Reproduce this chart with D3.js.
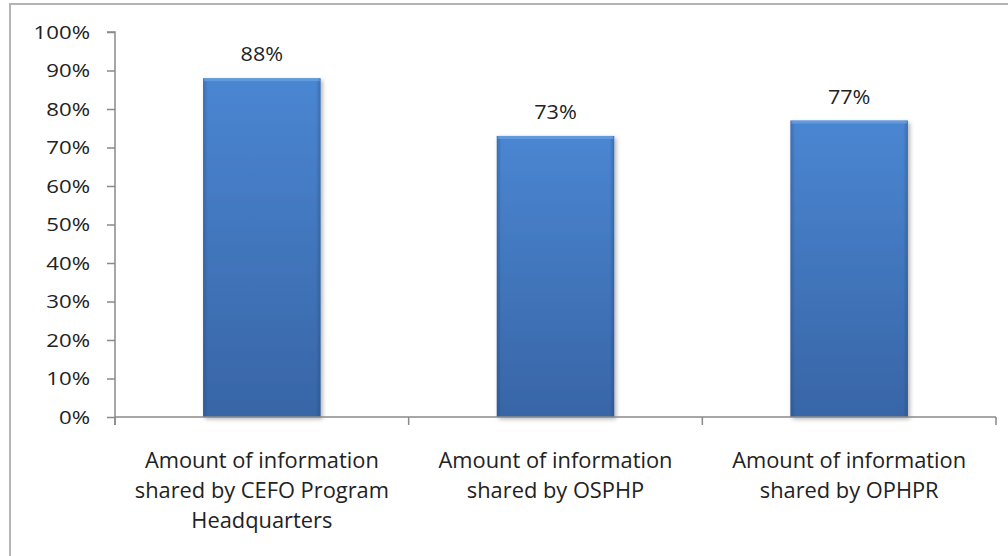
<!DOCTYPE html>
<html><head><meta charset="utf-8">
<script src="https://cdn.jsdelivr.net/npm/d3@7"></script>
<style>html,body{margin:0;padding:0;background:#fff;}svg{display:block;}</style>
</head><body>
<svg id="c" width="1008" height="556"></svg>
<script>
const categories = [
  ["Amount of information", "shared by CEFO Program", "Headquarters"],
  ["Amount of information", "shared by OSPHP"],
  ["Amount of information", "shared by OPHPR"]
];
const values = [0.88, 0.73, 0.77];
const valueLabels = ["88%", "73%", "77%"];
const yTicks = [0, 0.1, 0.2, 0.3, 0.4, 0.5, 0.6, 0.7, 0.8, 0.9, 1.0];

(function () {
const svg = d3.select("#c");
const font = "'Open Sans', Lato, sans-serif";
const pl = 115, pr = 996, pt = 32, pb = 417;

svg.append("rect").attr("x", 10).attr("y", 4).attr("width", 1010).attr("height", 560)
  .attr("fill", "none").attr("stroke", "#b4b4b4").attr("stroke-width", 2);

const defs = svg.append("defs");
const g1 = defs.append("linearGradient").attr("id", "barV").attr("x1", 0).attr("y1", 0).attr("x2", 0).attr("y2", 1);
g1.append("stop").attr("offset", "0%").attr("stop-color", "#4a86d2");
g1.append("stop").attr("offset", "100%").attr("stop-color", "#3865a6");
const g2 = defs.append("linearGradient").attr("id", "barH").attr("x1", 0).attr("y1", 0).attr("x2", 1).attr("y2", 0);
g2.append("stop").attr("offset", "0%").attr("stop-color", "#1e3f70").attr("stop-opacity", 0.35);
g2.append("stop").attr("offset", "4%").attr("stop-color", "#1e3f70").attr("stop-opacity", 0);
g2.append("stop").attr("offset", "96%").attr("stop-color", "#1e3f70").attr("stop-opacity", 0);
g2.append("stop").attr("offset", "100%").attr("stop-color", "#1e3f70").attr("stop-opacity", 0.35);
const f = defs.append("filter").attr("id", "sh").attr("x", "-10%").attr("y", "-10%").attr("width", "130%").attr("height", "130%");
f.append("feDropShadow").attr("dx", 2).attr("dy", 2).attr("stdDeviation", 2).attr("flood-color", "#000").attr("flood-opacity", 0.3);

const x = d3.scaleBand().domain(d3.range(values.length)).range([pl, pr]).paddingInner(0.6).paddingOuter(0.3);
const y = d3.scaleLinear().domain([0, 1]).range([pb, pt]);

const bars = svg.append("g").selectAll("g").data(values).join("g");
bars.append("rect").attr("x", (d, i) => x(i)).attr("y", d => y(d)).attr("width", x.bandwidth())
  .attr("height", d => y(0) - y(d)).attr("fill", "url(#barV)").attr("filter", "url(#sh)");
bars.append("rect").attr("x", (d, i) => x(i)).attr("y", d => y(d)).attr("width", x.bandwidth())
  .attr("height", d => y(0) - y(d)).attr("fill", "url(#barH)");
bars.append("rect").attr("x", (d, i) => x(i) + 1).attr("y", d => y(d)).attr("width", x.bandwidth() - 2)
  .attr("height", 3).attr("fill", "#6a9fe0").attr("opacity", 0.8);

svg.append("g").selectAll("text").data(values).join("text")
  .attr("transform", (d, i) => `translate(${x(i) + x.bandwidth() / 2},${y(d) - 17}) scale(1.08,1)`)
  .attr("text-anchor", "middle").attr("font-family", font).attr("font-size", 20).attr("fill", "#222")
  .text((d, i) => valueLabels[i]);

const yAxis = d3.axisLeft(y).tickValues(yTicks).tickFormat(d3.format(".0%")).tickSize(8).tickPadding(25);
const ya = svg.append("g").attr("transform", `translate(${pl},0)`).call(yAxis);
ya.select(".domain").attr("stroke", "#8a8a8a").attr("stroke-width", 1.5).attr("d", `M-8,${pt}H0V${pb + 8}`);
ya.selectAll(".tick line").attr("stroke", "#8a8a8a").attr("stroke-width", 1.5);
ya.selectAll(".tick text").attr("x", 0).attr("transform", "translate(-25,0) scale(1.17,1)")
  .attr("font-family", font).attr("font-size", 19).attr("fill", "#222");

const xEdges = d3.range(values.length + 1).map(i => pl + i * x.step());
const xa = svg.append("g");
xa.append("line").attr("x1", pl).attr("x2", pr).attr("y1", pb).attr("y2", pb)
  .attr("stroke", "#8a8a8a").attr("stroke-width", 1.5);
xa.selectAll("line.t").data(xEdges).join("line").attr("class", "t")
  .attr("x1", d => d).attr("x2", d => d).attr("y1", pb).attr("y2", pb + 8)
  .attr("stroke", "#8a8a8a").attr("stroke-width", 1.5);

const cl = svg.append("g").selectAll("text").data(categories).join("text")
  .attr("text-anchor", "middle").attr("font-family", font).attr("font-size", 21).attr("fill", "#222")
  .attr("transform", (d, i) => `translate(${x(i) + x.bandwidth() / 2},0) scale(1.04,1)`);
cl.selectAll("tspan").data(d => d).join("tspan").attr("x", 0).attr("y", (d, j) => 468 + j * 30).text(d => d);
})();
</script>
</body></html>
